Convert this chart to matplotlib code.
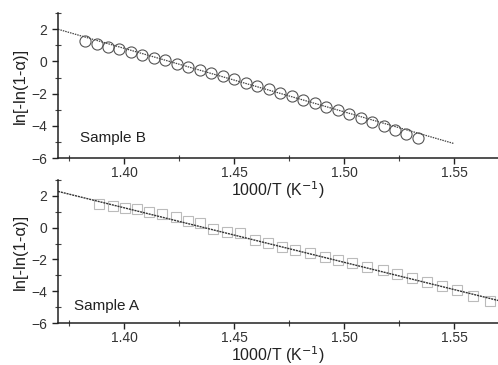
import matplotlib
matplotlib.use("Agg")
import matplotlib.pyplot as plt
from matplotlib.ticker import MultipleLocator

plt.rcParams['font.family'] = ['Liberation Sans', 'DejaVu Sans']

# Sample B: circles
b_x = [1.3823, 1.3875, 1.3927, 1.3979, 1.4031, 1.4084, 1.4136, 1.4188, 1.4240, 1.4293,
       1.4345, 1.4397, 1.4449, 1.4501, 1.4553, 1.4605, 1.4658, 1.4710, 1.4762, 1.4814,
       1.4866, 1.4919, 1.4971, 1.5023, 1.5075, 1.5127, 1.5180, 1.5232, 1.5284, 1.5336]
b_y = [1.25, 1.08, 0.92, 0.75, 0.59, 0.41, 0.24, 0.06, -0.13, -0.32,
       -0.52, -0.71, -0.91, -1.10, -1.31, -1.51, -1.73, -1.94, -2.15, -2.37,
       -2.59, -2.81, -3.03, -3.27, -3.50, -3.75, -3.99, -4.23, -4.48, -4.74]
b_fit_x = [1.37, 1.55]
b_fit_y = [2.0, -5.1]

# Sample A: squares
a_x = [1.3886, 1.3950, 1.4005, 1.4059, 1.4114, 1.4173, 1.4236, 1.4291, 1.4345, 1.4405,
       1.4468, 1.4527, 1.4595, 1.4655, 1.4718, 1.4777, 1.4845, 1.4914, 1.4973, 1.5036,
       1.5105, 1.5177, 1.5241, 1.5309, 1.5377, 1.5445, 1.5514, 1.5586, 1.5664]
a_y = [1.48, 1.33, 1.23, 1.16, 1.01, 0.85, 0.70, 0.43, 0.28, -0.08,
       -0.25, -0.35, -0.77, -0.94, -1.19, -1.40, -1.57, -1.86, -2.03, -2.23,
       -2.48, -2.65, -2.91, -3.18, -3.39, -3.70, -3.91, -4.27, -4.60]
a_fit_x = [1.37, 1.57]
a_fit_y = [2.28, -4.58]

xticks = [1.40, 1.45, 1.50, 1.55]
yticks = [-6, -4, -2, 0, 2]
xlabel = "1000/T (K$^{-1}$)"
ylabel = "ln[-ln(1-\u03b1)]"

fig = plt.figure(figsize=(4.98, 3.65), dpi=100)
ax_a = fig.add_axes([0.1165, 0.115, 0.8835, 0.392])
ax_b = fig.add_axes([0.1165, 0.567, 0.8835, 0.397])
ax_a.patch.set_visible(False)
ax_b.patch.set_visible(False)


def style(ax):
    ax.set_xlim(1.37, 1.57)
    ax.set_ylim(-6, 3)
    ax.set_xticks(xticks)
    ax.set_xticklabels([f"{t:.2f}" for t in xticks])
    ax.set_yticks(yticks)
    ax.xaxis.set_minor_locator(MultipleLocator(0.025))
    ax.yaxis.set_minor_locator(MultipleLocator(1))
    for s in ("top", "right"):
        ax.spines[s].set_visible(False)
    for s in ("left", "bottom"):
        ax.spines[s].set_linewidth(1.1)
        ax.spines[s].set_color("#222222")
    ax.tick_params(which="major", direction="out", length=4, width=1,
                   colors="#222222", labelsize=10, labelcolor="#333333")
    ax.tick_params(axis="x", which="major", pad=2)
    ax.tick_params(which="minor", direction="inout", length=4, width=0.8,
                   colors="#444444")
    ax.set_xlabel(xlabel, fontsize=11.5, color="#222222", labelpad=-1)
    ax.set_ylabel(ylabel, fontsize=12, color="#222222", labelpad=3)


ax_b.plot(b_fit_x, b_fit_y, linestyle=(0, (1.2, 0.8)), color="#444444", lw=0.9)
ax_b.plot(b_x, b_y, "o", ms=8, mfc="none", mec="#555555", mew=0.8)
ax_b.text(0.05, 0.14, "Sample B", transform=ax_b.transAxes, fontsize=11,
          color="#222222", va="center")
style(ax_b)

ax_a.plot(a_x, a_y, "s", ms=7.5, mfc="none", mec="#bbbbbb", mew=0.8)
ax_a.plot(a_fit_x, a_fit_y, linestyle=(0, (1.5, 0.6)), color="#333333", lw=1.0)
ax_a.text(0.036, 0.12, "Sample A", transform=ax_a.transAxes, fontsize=11,
          color="#222222", va="center")
style(ax_a)

fig.savefig("out.png", dpi=100)
